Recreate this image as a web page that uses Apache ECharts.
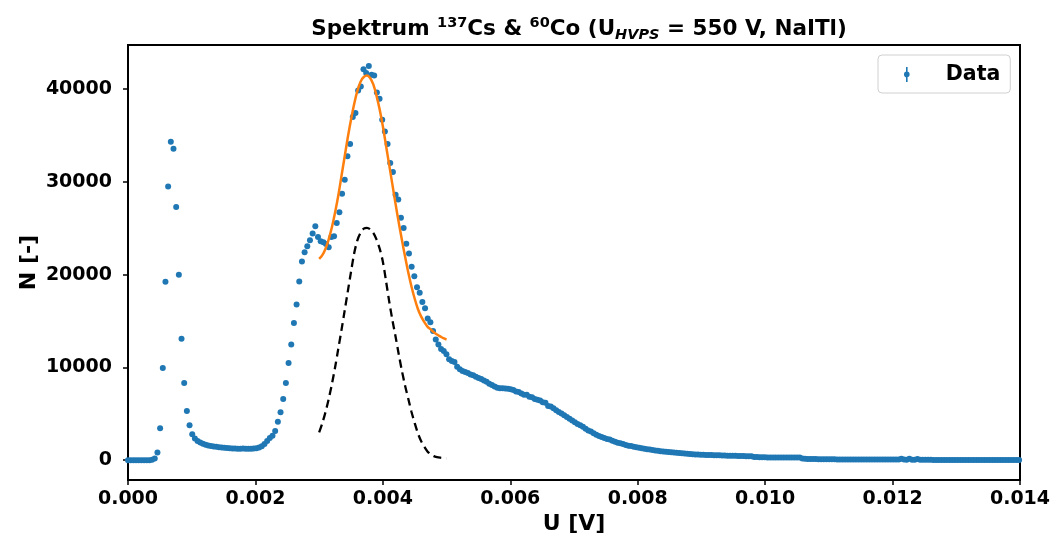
<!DOCTYPE html>
<html><head><meta charset="utf-8">
<script src="https://cdn.jsdelivr.net/npm/echarts@6/dist/echarts.min.js"></script>
<style>html,body{margin:0;padding:0;background:#fff}#c{width:1056px;height:537px}</style>
</head><body><div id="c"></div>
<script>
// channel width in volts (spectrum sampled on a uniform grid starting at 0 V)
const X_STEP = 0.000042;
const countsN = [
0,0,0,0,0,0,0,0,10,40,
200,830,3440,9930,19230,29490,34330,33570,27300,19980,
13100,8320,5310,3770,2800,2350,2080,1900,1780,1680,
1600,1540,1490,1440,1400,1370,1340,1310,1290,1270,
1260,1250,1250,1260,1240,1250,1250,1260,1290,1360,
1500,1750,2080,2400,2650,3150,4160,5170,6600,8320,
10470,12480,14780,16790,19260,21420,22420,23060,23710,24430,
25210,24070,23600,23490,23300,22950,24070,24140,25580,26720,
28730,30240,32750,34080,36990,37420,39850,40290,42150,41720,
42500,41540,41460,39630,38950,36690,35440,34080,32040,31070,
28620,28090,26120,25040,23320,22280,20840,19840,18650,18050,
17040,16390,15280,14880,13920,13020,12480,12000,11760,11410,
10870,10700,10580,10080,9800,9610,9500,9400,9250,9150,
9000,8850,8750,8600,8450,8250,8100,7950,7800,7750,
7760,7720,7700,7650,7560,7420,7350,7180,7050,7050,
6850,6800,6600,6520,6450,6250,6200,5850,5780,5600,
5400,5200,5050,4850,4650,4460,4280,4100,3900,3780,
3600,3380,3200,3100,2900,2750,2620,2500,2400,2300,
2230,2100,1980,1880,1830,1740,1650,1560,1540,1460,
1400,1340,1300,1250,1190,1150,1100,1060,1010,980,
950,920,890,860,830,800,790,760,720,700,
670,650,620,610,600,580,570,560,555,550,
545,540,520,500,490,480,475,470,466,460,
450,440,430,420,360,340,330,320,310,305,
300,300,300,300,295,290,290,290,290,287,
287,285,200,150,140,130,125,120,115,110,
105,100,100,100,95,90,90,85,80,80,
80,75,75,72,72,72,72,72,70,70,
70,70,70,70,70,70,70,70,70,150,
70,60,160,60,50,140,40,40,40,40,
40,35,35,30,30,30,30,30,25,25,
25,25,20,20,20,20,20,20,20,20,
20,15,15,15,15,15,15,15,15,15,
15,15,15,15
];
// fit curves
const fitX = [0.00300,0.00305,0.00310,0.00315,0.00320,0.00325,0.00330,0.00335,0.00340,0.00345,
              0.00350,0.00355,0.00360,0.00365,0.00370,0.00375,0.00380,0.00385,0.00390,0.00395,
              0.00400,0.00405,0.00410,0.00415,0.00420,0.00425,0.00430,0.00435,0.00440,0.00445,
              0.00450,0.00455,0.00460,0.00465,0.00470,0.00475,0.00480,0.00485,0.00490,0.00495,0.00500];
const fitTotal = [21700,22100,22800,23800,25100,26700,28500,30600,32700,34800,
                  36700,38400,39800,40800,41300,41450,41200,40500,39300,37800,
                  36000,33900,31800,29700,27600,25600,23700,21900,20200,18700,
                  17400,16300,15500,14900,14400,14100,13800,13550,13350,13150,13000];
const fitPeak = [3000,4000,5200,6600,8200,10000,12000,14000,16100,18200,
                 20300,22300,23700,24500,24950,25050,24900,24500,23800,22800,
                 21400,19300,17100,15100,13300,11400,9600,8000,6600,5200,
                 4000,2900,2070,1450,950,650,440,340,280,240,210];
// axis ticks
const xTicks = [0,0.002,0.004,0.006,0.008,0.010,0.012,0.014];
const yTicks = [0,10000,20000,30000,40000];

const FONT = 'DejaVu Sans';
const chart = echarts.init(document.getElementById('c'), null, {renderer:'canvas'});
const axisLabelStyle = {fontFamily:FONT, fontWeight:'bold', fontSize:19, color:'#000'};
const nameStyle = {fontFamily:FONT, fontWeight:'bold', fontSize:22, color:'#000'};
chart.setOption({
  animation:false,
  backgroundColor:'#fff',
  title:{
    text:'{b|Spektrum }{sup|137}{b|Cs & }{sup|60}{b|Co (U}{sub|HVPS}{b| = 550 V, NaITl)}',
    left:574, top:7, textAlign:'center',
    textStyle:{
      rich:{
        b:{fontFamily:FONT, fontWeight:'bold', fontSize:21.5, color:'#000', lineHeight:34},
        sup:{fontFamily:FONT, fontWeight:'bold', fontSize:14.5, color:'#000', verticalAlign:'top', lineHeight:34, padding:[4,0,0,0]},
        sub:{fontFamily:FONT, fontWeight:'bold', fontStyle:'italic', fontSize:14.5, color:'#000', verticalAlign:'bottom', lineHeight:34, padding:[0,0,3,0]}
      }
    }
  },
  legend:{
    left:878, top:55,
    orient:'horizontal',
    data:[{name:'Data', icon:'path://M2.2,0h1.6v15h-1.6z M3,4.6a2.8,2.8 0 1,1 -0.01,0z'}],
    itemWidth:6, itemHeight:15,
    itemStyle:{opacity:1},
    padding:[9,10,8,26],
    borderColor:'#d0d0d0', borderWidth:1, borderRadius:4,
    backgroundColor:'rgba(255,255,255,0.8)',
    textStyle:{fontFamily:FONT, fontWeight:'bold', fontSize:20.5, color:'#000', padding:[0,0,0,31]}
  },
  grid:{left:128, right:36, top:45, bottom:57, show:true, borderColor:'#000', borderWidth:2,
        backgroundColor:'transparent', containLabel:false, outerBoundsMode:'none'},
  xAxis:{
    type:'value', min:0, max:0.014,
    name:'U [V]', nameLocation:'middle', nameGap:33, nameMoveOverlap:false,
    nameTextStyle:nameStyle,
    axisLine:{show:true, onZero:false, lineStyle:{color:'#000', width:2}},
    axisTick:{show:true, length:5, lineStyle:{color:'#000', width:1.5}, customValues:xTicks},
    axisLabel:Object.assign({customValues:xTicks, margin:10, formatter:v=>v.toFixed(3)}, axisLabelStyle),
    splitLine:{show:false}
  },
  yAxis:{
    type:'value', min:-2130, max:44750,
    name:'N [-]', nameLocation:'middle', nameGap:88, nameMoveOverlap:false,
    nameTextStyle:nameStyle,
    axisLine:{show:true, lineStyle:{color:'#000', width:2}},
    axisTick:{show:true, length:5, lineStyle:{color:'#000', width:1.5}, customValues:yTicks},
    axisLabel:Object.assign({customValues:yTicks, margin:16, formatter:v=>String(v)}, axisLabelStyle),
    splitLine:{show:false}
  },
  series:[
    {name:'Data', type:'scatter', symbol:'circle', symbolSize:6,
     itemStyle:{color:'#1f77b4', opacity:1},
     data:countsN.map((y,i)=>[i*X_STEP, y])},
    {name:'fit', type:'line', smooth:0.3, showSymbol:false, symbol:'none',
     lineStyle:{color:'#ff7f0e', width:2.5},
     data:fitX.map((x,i)=>[x, fitTotal[i]])},
    {name:'peak', type:'line', smooth:0.3, showSymbol:false, symbol:'none',
     lineStyle:{color:'#000', width:2.3, type:[8,5]},
     data:fitX.map((x,i)=>[x, fitPeak[i]])}
  ]
});
</script></body></html>
